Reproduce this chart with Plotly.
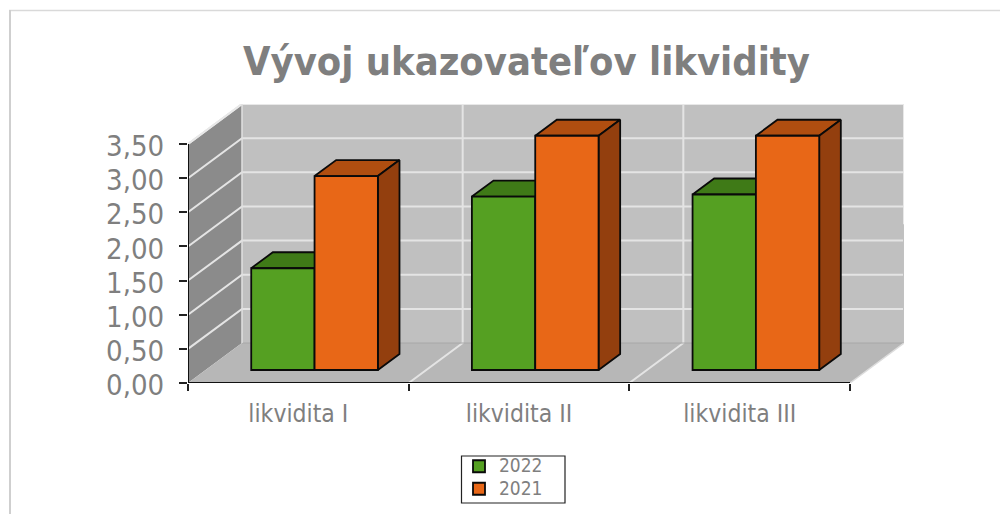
import plotly.graph_objects as go

# ---- data ----
categories = ["likvidita I", "likvidita II", "likvidita III"]
series_2022 = [1.49, 2.54, 2.57]
series_2021 = [2.84, 3.43, 3.43]
y_ticks = [0, 0.5, 1, 1.5, 2, 2.5, 3, 3.5]
series_names = ["2022", "2021"]

# ---- pseudo-3D geometry (axis units) ----
W, H = 1000, 514
L, R, T, B = 188, 904, 104, 383      # plot area px
N = len(categories)
YMAX = 3.5
DX = 54 / 220.67                     # depth offset in category units
DY = 40 / 68.35                      # depth offset in value units
D0, D1 = 0.325, 0.725                # bar front and back depth (0..1)
BW = 0.287                           # bar width
CENTER = 0.494                       # group centre in category
EDGE = 1.8                           # bar outline width


def pr(x, y, d=0.0):
    return x + d * DX, y + d * DY


def poly(points, fill, line=None, lw=0.0, z=0):
    pts = [pr(*p) for p in points]
    pts = pts + [pts[0]]
    return go.Scatter(
        x=[p[0] for p in pts], y=[p[1] for p in pts],
        mode="lines", fill="toself", fillcolor=fill,
        line=dict(color=line or "rgba(0,0,0,0)", width=lw),
        hoverinfo="skip", showlegend=False, cliponaxis=False, zorder=z,
    )


def seg(points, color, width, z=0):
    pts = [pr(*p) for p in points]
    return go.Scatter(
        x=[p[0] for p in pts], y=[p[1] for p in pts], mode="lines",
        line=dict(color=color, width=width), hoverinfo="skip",
        showlegend=False, cliponaxis=False, zorder=z,
    )


def px_x(v):
    return (v - L) / (R - L)


def px_y(v):
    return (B - v) / (B - T)


GRID = "#e4e4e4"
fig = go.Figure()

# walls
fig.add_trace(poly([(0, 0, 1), (N, 0, 1), (N, YMAX, 1), (0, YMAX, 1)], "#c0c0c0"))
fig.add_trace(poly([(0, 0, 0), (0, 0, 1), (0, YMAX, 1), (0, YMAX, 0)], "#8b8b8b"))
fig.add_trace(poly([(0, 0, 0), (N, 0, 0), (N, 0, 1), (0, 0, 1)], "#b7b7b7"))

# grid lines
for v in y_ticks[1:]:
    fig.add_trace(seg([(0, v, 0), (0, v, 1), (N, v, 1)], GRID, 2))
for i in range(1, N):
    fig.add_trace(seg([(i, 0, 0), (i, 0, 1), (i, YMAX, 1)], GRID, 2))
fig.add_trace(seg([(0, YMAX, 0), (0, YMAX, 1), (N, YMAX, 1), (N, 0, 1)], "#e8e8e8", 2))
fig.add_trace(seg([(0, 0, 1), (N, 0, 1)], "#a8a8a8", 1))
fig.add_trace(seg([(0, 0, 1), (0, YMAX, 1)], "#e0e0e0", 1.5))
fig.add_trace(seg([(N, 0, 0), (N, 0, 1)], "#dcdcdc", 1.5))
fig.add_trace(seg([(N, 0, 1), (N, 1.74, 1)], "#b4b4b4", 1.5))

# bars
styles = [
    (series_2022, "#55a022", "#3f7a17", "#356613", -1),
    (series_2021, "#e86717", "#b04e10", "#933f0e", 0),
]
for s, (vals, front, top, side, off) in enumerate(styles):
    zs = 1 + 2 * s
    for i, v in enumerate(vals):
        x0 = i + CENTER + off * BW
        x1 = x0 + BW
        fig.add_trace(poly([(x0, v, D0), (x1, v, D0), (x1, v, D1), (x0, v, D1)],
                           top, line="#0a0a0a", lw=EDGE, z=zs))
        fig.add_trace(poly([(x1, 0, D0), (x1, 0, D1), (x1, v, D1), (x1, v, D0)],
                           side, line="#0a0a0a", lw=EDGE, z=zs))
    xs = [pr(i + CENTER + (off + 0.5) * BW, 0, D0)[0] for i in range(N)]
    fig.add_trace(go.Bar(
        x=xs, y=vals, base=pr(0, 0, D0)[1], width=BW,
        name=f'<span style="font-size:19px">{series_names[s]}</span>',
        marker=dict(color=front, line=dict(color="#0a0a0a", width=EDGE)),
        hoverinfo="skip", zorder=zs + 1,
    ))

# axis lines
fig.add_trace(seg([(0, 0, 0), (0, YMAX, 0)], "#111111", 2, z=9))
fig.add_trace(seg([(0, 0, 0), (N, 0, 0)], "#111111", 2, z=9))

TXT = "#7f7f7f"
FONT = "DejaVu Sans Condensed"
fig.update_layout(
    width=W, height=H, autosize=False,
    margin=dict(l=L, r=W - R, t=T, b=H - B, pad=0, autoexpand=False),
    paper_bgcolor="white", plot_bgcolor="white",
    barmode="overlay", separators=", ",
    font=dict(family=FONT, color=TXT),
    title=dict(text="<b>Vývoj ukazovateľov likvidity</b>", font=dict(size=39.5, color=TXT, family=FONT),
               x=526.5 / W, xanchor="center", xref="container",
               y=1 - 61 / H, yanchor="middle", yref="container"),
    xaxis=dict(range=[0, N + DX], showgrid=False, zeroline=False, showline=False,
               tickmode="array", tickvals=[i + 0.5 for i in range(N)], ticktext=categories,
               ticks="", tickfont=dict(size=24.5, color=TXT), ticklabelstandoff=13,
               minor=dict(tickmode="array", tickvals=list(range(N + 1)), ticks="outside",
                          ticklen=7, tickwidth=1.5, tickcolor="#222222", showgrid=False)),
    yaxis=dict(range=[0, YMAX + DY], showgrid=False, zeroline=False, showline=False,
               tickmode="array", tickvals=y_ticks, tickformat=".2f",
               ticks="outside", ticklen=8, tickwidth=1.5, tickcolor="#222222",
               tickfont=dict(size=29, color=TXT), ticklabelstandoff=9, ticklabelshift=2),
    legend=dict(x=px_x(459), xanchor="left", y=px_y(450), yanchor="top",
                bgcolor="rgba(0,0,0,0)", borderwidth=0,
                font=dict(size=15, color=TXT), traceorder="normal",
                itemclick=False, itemdoubleclick=False),
    shapes=[
        dict(type="line", xref="paper", yref="paper",
             x0=px_x(9), x1=px_x(1000), y0=px_y(10.5), y1=px_y(10.5),
             line=dict(color="#d9d9d9", width=1.5)),
        dict(type="line", xref="paper", yref="paper",
             x0=px_x(10), x1=px_x(10), y0=px_y(10), y1=px_y(514),
             line=dict(color="#cfcfcf", width=2)),
        dict(type="rect", xref="paper", yref="paper",
             x0=px_x(461.5), x1=px_x(565), y0=px_y(456), y1=px_y(503),
             line=dict(color="#222222", width=1.2), fillcolor="white"),
    ],
)

fig.write_html("out.html", config=dict(displayModeBar=False),
               post_script="document.body.style.margin='0';")
